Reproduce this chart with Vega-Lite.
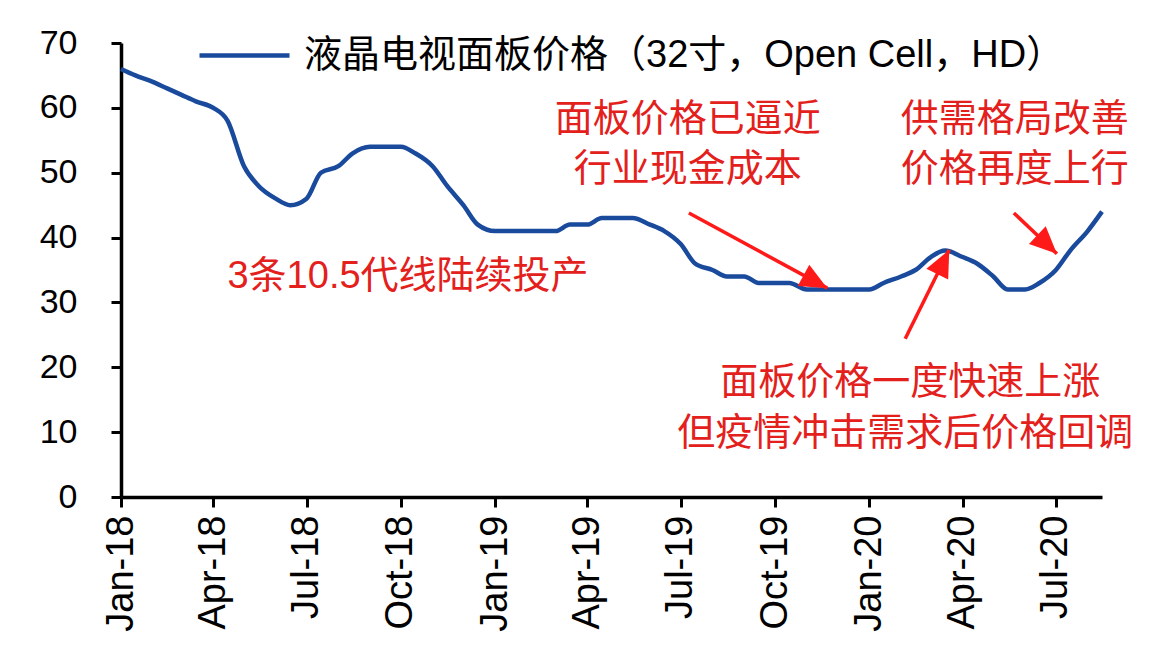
{
  "$schema": "https://vega.github.io/schema/vega-lite/v6.json",
  "width": 981,
  "height": 454,
  "autosize": {"type": "none"},
  "padding": {"left": 121, "top": 43, "right": 58, "bottom": 159},
  "background": "white",
  "config": {"view": {"stroke": null}, "font": "Liberation Sans"},
  "datasets": {
    "price": [
      {"date": "2018-01-01", "value": 66},
      {"date": "2018-01-15", "value": 65},
      {"date": "2018-02-01", "value": 64},
      {"date": "2018-02-15", "value": 63},
      {"date": "2018-03-01", "value": 62},
      {"date": "2018-03-15", "value": 61},
      {"date": "2018-04-01", "value": 60},
      {"date": "2018-04-15", "value": 58},
      {"date": "2018-05-01", "value": 51},
      {"date": "2018-05-15", "value": 48},
      {"date": "2018-06-01", "value": 46},
      {"date": "2018-06-15", "value": 45},
      {"date": "2018-07-01", "value": 46},
      {"date": "2018-07-15", "value": 50},
      {"date": "2018-08-01", "value": 51},
      {"date": "2018-08-15", "value": 53},
      {"date": "2018-09-01", "value": 54},
      {"date": "2018-09-15", "value": 54},
      {"date": "2018-10-01", "value": 54},
      {"date": "2018-10-15", "value": 53},
      {"date": "2018-11-01", "value": 51},
      {"date": "2018-11-15", "value": 48},
      {"date": "2018-12-01", "value": 45},
      {"date": "2018-12-15", "value": 42},
      {"date": "2019-01-01", "value": 41},
      {"date": "2019-01-15", "value": 41},
      {"date": "2019-02-01", "value": 41},
      {"date": "2019-02-15", "value": 41},
      {"date": "2019-03-01", "value": 41},
      {"date": "2019-03-15", "value": 42},
      {"date": "2019-04-01", "value": 42},
      {"date": "2019-04-15", "value": 43},
      {"date": "2019-05-01", "value": 43},
      {"date": "2019-05-15", "value": 43},
      {"date": "2019-06-01", "value": 42},
      {"date": "2019-06-15", "value": 41},
      {"date": "2019-07-01", "value": 39},
      {"date": "2019-07-15", "value": 36},
      {"date": "2019-08-01", "value": 35},
      {"date": "2019-08-15", "value": 34},
      {"date": "2019-09-01", "value": 34},
      {"date": "2019-09-15", "value": 33},
      {"date": "2019-10-01", "value": 33},
      {"date": "2019-10-15", "value": 33},
      {"date": "2019-11-01", "value": 32},
      {"date": "2019-11-15", "value": 32},
      {"date": "2019-12-01", "value": 32},
      {"date": "2019-12-15", "value": 32},
      {"date": "2020-01-01", "value": 32},
      {"date": "2020-01-15", "value": 33},
      {"date": "2020-02-01", "value": 34},
      {"date": "2020-02-15", "value": 35},
      {"date": "2020-03-01", "value": 37},
      {"date": "2020-03-15", "value": 38},
      {"date": "2020-04-01", "value": 37},
      {"date": "2020-04-15", "value": 36},
      {"date": "2020-05-01", "value": 34},
      {"date": "2020-05-15", "value": 32},
      {"date": "2020-06-01", "value": 32},
      {"date": "2020-06-15", "value": 33},
      {"date": "2020-07-01", "value": 35},
      {"date": "2020-07-15", "value": 38},
      {"date": "2020-08-01", "value": 41},
      {"date": "2020-08-15", "value": 44}
    ],
    "arrows": [
      {"arrow": "a1", "start": "2019-07-09", "startValue": 43.8, "end": "2019-11-21", "endValue": 32.2},
      {"arrow": "a2", "start": "2020-02-05", "startValue": 24.4, "end": "2020-03-19", "endValue": 38.1},
      {"arrow": "a3", "start": "2020-05-21", "startValue": 43.8, "end": "2020-07-02", "endValue": 37.5}
    ],
    "notes": [
      {"date": "2019-07-08", "value": 58.1, "text": "面板价格已逼近"},
      {"date": "2019-07-08", "value": 50.4, "text": "行业现金成本"},
      {"date": "2020-05-22", "value": 58.1, "text": "供需格局改善"},
      {"date": "2020-05-22", "value": 50.4, "text": "价格再度上行"},
      {"date": "2018-10-08", "value": 33.9, "text": "3条10.5代线陆续投产"},
      {"date": "2020-02-10", "value": 17.6, "text": "面板价格一度快速上涨"},
      {"date": "2020-02-05", "value": 9.7, "text": "但疫情冲击需求后价格回调"}
    ]
  },
  "layer": [
    {
      "data": {"name": "price"},
      "mark": {"type": "line", "interpolate": "monotone", "strokeWidth": 4.5, "strokeJoin": "round"},
      "encoding": {
        "x": {
          "field": "date", "type": "temporal",
          "scale": {"type": "utc", "domain": [{"year": 2018, "month": 1, "date": 1, "utc": true}, {"year": 2020, "month": 8, "date": 15, "utc": true}]},
          "axis": {
            "title": null,
            "values": [
              {"year": 2018, "month": 1, "date": 1, "utc": true},
              {"year": 2018, "month": 4, "date": 1, "utc": true},
              {"year": 2018, "month": 7, "date": 1, "utc": true},
              {"year": 2018, "month": 10, "date": 1, "utc": true},
              {"year": 2019, "month": 1, "date": 1, "utc": true},
              {"year": 2019, "month": 4, "date": 1, "utc": true},
              {"year": 2019, "month": 7, "date": 1, "utc": true},
              {"year": 2019, "month": 10, "date": 1, "utc": true},
              {"year": 2020, "month": 1, "date": 1, "utc": true},
              {"year": 2020, "month": 4, "date": 1, "utc": true},
              {"year": 2020, "month": 7, "date": 1, "utc": true}
            ],
            "labelExpr": "utcFormat(datum.value, '%b-%y')",
            "labelAngle": 270,
            "labelAlign": "right",
            "labelBaseline": "middle",
            "labelFont": "Liberation Sans",
            "labelFontSize": 38,
            "labelColor": "black",
            "labelPadding": 8,
            "labelOverlap": false,
            "labelFlush": false,
            "domainColor": "black",
            "domainWidth": 3.5,
            "tickColor": "black",
            "tickWidth": 3,
            "tickSize": 10,
            "grid": false
          }
        },
        "y": {
          "field": "value", "type": "quantitative",
          "scale": {"domain": [0, 70], "nice": false, "zero": true},
          "axis": {
            "title": null,
            "values": [0, 10, 20, 30, 40, 50, 60, 70],
            "labelFont": "Liberation Sans",
            "labelFontSize": 34,
            "labelColor": "black",
            "labelPadding": 34,
            "domainColor": "black",
            "domainWidth": 3.5,
            "tickColor": "black",
            "tickWidth": 3,
            "tickSize": 10,
            "grid": false
          }
        },
        "color": {
          "datum": "液晶电视面板价格（32寸，Open Cell，HD）",
          "type": "nominal",
          "scale": {"range": ["#1A4A9C"]},
          "legend": {
            "title": null,
            "orient": "none",
            "legendX": 76,
            "legendY": -35,
            "padding": 0,
            "symbolType": "stroke",
            "symbolSize": 8100,
            "symbolStrokeWidth": 4.5,
            "labelFont": "Liberation Sans, Noto Sans CJK SC",
            "labelFontSize": 38,
            "labelColor": "black",
            "labelLimit": 1000,
            "labelOffset": 12
          }
        }
      }
    },
    {
      "data": {"name": "arrows"},
      "mark": {"type": "rule", "color": "#FF1A1A", "strokeWidth": 3.5},
      "encoding": {
        "x": {"field": "start", "type": "temporal"},
        "y": {"field": "startValue", "type": "quantitative"},
        "x2": {"field": "end"},
        "y2": {"field": "endValue"}
      }
    },
    {
      "data": {"name": "arrows"},
      "transform": [{"filter": {"field": "arrow", "equal": "a1"}}],
      "mark": {"type": "point", "shape": "M0,0L0.45,1L-0.45,1Z", "filled": true, "color": "#FF1A1A", "opacity": 1, "size": 2916, "angle": 118.4},
      "encoding": {
        "x": {"field": "end", "type": "temporal"},
        "y": {"field": "endValue", "type": "quantitative"}
      }
    },
    {
      "data": {"name": "arrows"},
      "transform": [{"filter": {"field": "arrow", "equal": "a2"}}],
      "mark": {"type": "point", "shape": "M0,0L0.45,1L-0.45,1Z", "filled": true, "color": "#FF1A1A", "opacity": 1, "size": 2916, "angle": 26.3},
      "encoding": {
        "x": {"field": "end", "type": "temporal"},
        "y": {"field": "endValue", "type": "quantitative"}
      }
    },
    {
      "data": {"name": "arrows"},
      "transform": [{"filter": {"field": "arrow", "equal": "a3"}}],
      "mark": {"type": "point", "shape": "M0,0L0.45,1L-0.45,1Z", "filled": true, "color": "#FF1A1A", "opacity": 1, "size": 2916, "angle": 133.6},
      "encoding": {
        "x": {"field": "end", "type": "temporal"},
        "y": {"field": "endValue", "type": "quantitative"}
      }
    },
    {
      "data": {"name": "notes"},
      "mark": {"type": "text", "font": "Liberation Sans, Noto Sans CJK SC", "fontSize": 38, "color": "#E3201B", "align": "center", "baseline": "middle"},
      "encoding": {
        "x": {"field": "date", "type": "temporal"},
        "y": {"field": "value", "type": "quantitative"},
        "text": {"field": "text"}
      }
    }
  ]
}
